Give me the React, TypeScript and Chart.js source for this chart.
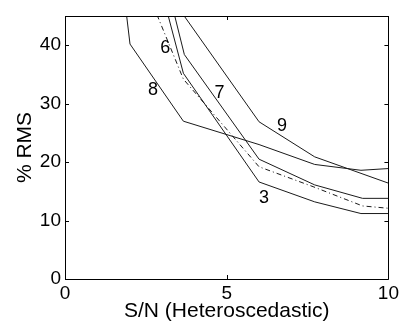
import React, { useEffect, useRef } from "react";
import { Chart, registerables } from "chart.js";

Chart.register(...registerables);

// Curve data (S/N vs % RMS)
const c3X = [2, 3.66, 6, 7.72, 9.15, 10];
const c3Y = [70, 35.2, 16.6, 13.2, 11.2, 11.2];
const c6X = [2, 3.66, 6, 7.67, 9.2, 10];
const c6Y = [56.6, 34.2, 19.2, 15.8, 12.5, 12.1];
const c7X = [2, 3.69, 6, 7.72, 9.2, 10];
const c7Y = [76, 38.4, 20.5, 16.1, 13.8, 13.8];
const c8X = [1, 2.01, 3.66, 6, 7.72, 9.15, 10];
const c8Y = [87, 40.2, 27.0, 23.0, 19.6, 18.6, 18.9];
const c9X = [2, 3.66, 6, 7.72, 10];
const c9Y = [65, 45.2, 26.9, 20.9, 16.4];

const curveNames = ["3", "6", "7", "8", "9"];

// text annotations (labels of curves), in data units
const labelTexts = ["6", "8", "7", "9", "3"];
const labelX = [3.1, 2.72, 4.78, 6.71, 6.15];
const labelY = [39.6, 32.3, 31.8, 26.1, 13.8];

const xTicks = [0, 5, 10];
const yTicks = [0, 10, 20, 30, 40];

const FONT = "'Liberation Sans', Arial, Helvetica, sans-serif";

function pts(xs: number[], ys: number[]) {
  return xs.map((x, i) => ({ x, y: ys[i] }));
}

const boxPlugin = {
  id: "boxTicks",
  afterDraw(chart: any) {
    const { ctx, chartArea } = chart;
    const { left, right, top, bottom } = chartArea;
    const xs = chart.scales.x;
    const ys = chart.scales.y;
    ctx.save();
    ctx.strokeStyle = "#000";
    ctx.lineWidth = 1;
    ctx.beginPath();
    ctx.rect(Math.round(left) + 0.5, Math.round(top) + 0.5, Math.round(right - left), Math.round(bottom - top));
    ctx.stroke();
    const L = 4;
    ctx.beginPath();
    xTicks.forEach((v) => {
      const px = Math.round(xs.getPixelForValue(v)) + 0.5;
      ctx.moveTo(px, bottom);
      ctx.lineTo(px, bottom - L);
      ctx.moveTo(px, top);
      ctx.lineTo(px, top + L);
    });
    yTicks.forEach((v) => {
      const py = Math.round(ys.getPixelForValue(v)) + 0.5;
      ctx.moveTo(left, py);
      ctx.lineTo(left + L, py);
      ctx.moveTo(right, py);
      ctx.lineTo(right - L, py);
    });
    ctx.stroke();
    // curve labels
    ctx.fillStyle = "#000";
    ctx.font = `18px ${FONT}`;
    ctx.textAlign = "center";
    ctx.textBaseline = "middle";
    labelTexts.forEach((t, i) => {
      ctx.fillText(t, xs.getPixelForValue(labelX[i]), ys.getPixelForValue(labelY[i]));
    });
    ctx.restore();
  },
};

export default function App() {
  const ref = useRef<HTMLCanvasElement | null>(null);
  useEffect(() => {
    document.body.style.margin = "0";
    const canvas = ref.current!;
    const line = (name: string, data: any, dash: number[] = []) => ({
      label: name,
      data,
      borderColor: "#1a1a1a",
      borderWidth: 1,
      borderDash: dash,
      pointRadius: 0,
      fill: false,
      tension: 0,
    });
    const chart = new Chart(canvas, {
      type: "line",
      data: {
        datasets: [
          line(curveNames[0], pts(c3X, c3Y)),
          line(curveNames[1], pts(c6X, c6Y), [5, 3, 1, 3]),
          line(curveNames[2], pts(c7X, c7Y)),
          line(curveNames[3], pts(c8X, c8Y)),
          line(curveNames[4], pts(c9X, c9Y)),
        ],
      },
      options: {
        animation: false,
        responsive: false,
        maintainAspectRatio: false,
        layout: { padding: { top: 16, right: 9, left: 0, bottom: 0 } },
        plugins: { legend: { display: false }, tooltip: { enabled: false } },
        scales: {
          x: {
            type: "linear",
            min: 0,
            max: 10,
            grid: { display: false, drawTicks: false },
            border: { display: false },
            ticks: {
              stepSize: 5,
              includeBounds: false,
              padding: 3,
              color: "#000",
              font: { family: FONT, size: 19 },
              maxRotation: 0,
            },
            title: {
              display: true,
              text: "S/N (Heteroscedastic)",
              color: "#000",
              font: { family: FONT, size: 21 },
              padding: { top: 0, bottom: 5 },
            },
            afterFit: (s: any) => {
              s.height = 50;
            },
          },
          y: {
            type: "linear",
            min: 0,
            max: 45,
            grid: { display: false, drawTicks: false },
            border: { display: false },
            ticks: {
              stepSize: 10,
              includeBounds: false,
              padding: 4,
              color: "#000",
              font: { family: FONT, size: 19 },
            },
            afterBuildTicks: (s: any) => {
              s.ticks = yTicks.map((v) => ({ value: v }));
            },
            title: {
              display: true,
              text: "% RMS",
              color: "#000",
              font: { family: FONT, size: 21 },
              padding: { top: 13, bottom: 0 },
            },
            afterFit: (s: any) => {
              s.width = 65;
            },
          },
        },
      },
      plugins: [boxPlugin],
    } as any);
    return () => chart.destroy();
  }, []);
  return (
    <div style={{ width: 402, height: 329, background: "#fff" }}>
      <canvas ref={ref} width={402} height={329} style={{ display: "block" }} />
    </div>
  );
}
